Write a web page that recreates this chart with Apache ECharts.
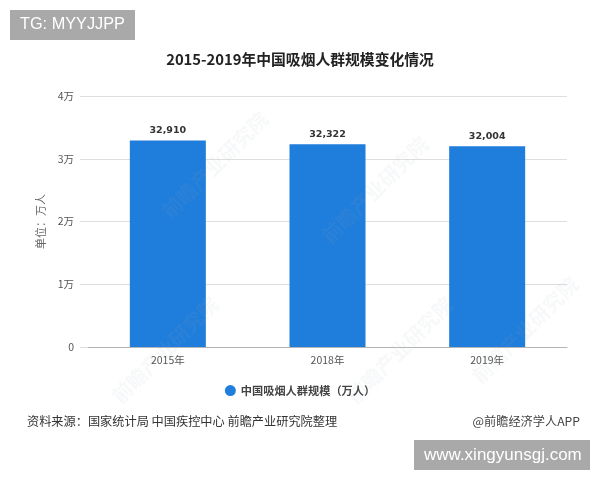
<!DOCTYPE html>
<html>
<head>
<meta charset="UTF-8">
<title>中国吸烟人群规模</title>
<script src="https://cdn.jsdelivr.net/npm/echarts@6/dist/echarts.min.js"></script>
<style>
	html, body { margin: 0; padding: 0; background: #fff; }
	#main { width: 600px; height: 480px; }
</style>
</head>
<body>
<div id="main"></div>
<script>
var years = ['2015年', '2018年', '2019年'];
var smokers = [32910, 32322, 32004];
var yTicks = { 0: '0', 10000: '1万', 20000: '2万', 30000: '3万', 40000: '4万' };
var seriesName = '中国吸烟人群规模（万人）';
var titleText = '2015-2019年中国吸烟人群规模变化情况';
var sourceText = '资料来源：国家统计局 中国疾控中心 前瞻产业研究院整理';
var creditText = '@前瞻经济学人APP';
var cjk = '"Noto Sans CJK SC", sans-serif';

// 水印
function mark(x, y, size) {
	return {
		type: 'text', x: x, y: y, rotation: Math.PI / 4, z: 10, silent: true,
		style: { text: '前瞻产业研究院', font: 'bold ' + size + 'px ' + cjk, fill: 'rgba(170,180,190,0.09)', align: 'center', verticalAlign: 'middle' }
	};
}

var chart = echarts.init(document.getElementById('main'));
chart.setOption({
	animation: false,
	backgroundColor: '#fff',
	title: {
		text: titleText, left: 'center', top: 47,
		textStyle: { fontFamily: cjk, fontSize: 14.8, fontWeight: 'bold', color: '#222' }
	},
	grid: { left: 88, right: 33, top: 96, bottom: 133 },
	legend: {
		left: 'center', top: 380, icon: 'circle', itemWidth: 11, itemHeight: 11,
		textStyle: { fontFamily: cjk, fontSize: 11.2, fontWeight: 'bold', color: '#444' }
	},
	xAxis: {
		type: 'category', data: years,
		axisLine: { lineStyle: { color: '#b5b5b5' } },
		axisTick: { alignWithLabel: true, length: 4, lineStyle: { color: '#b5b5b5' } },
		axisLabel: { fontFamily: cjk, fontSize: 10.5, color: '#555', margin: 8 }
	},
	yAxis: {
		type: 'value', min: 0, max: 40000, interval: 10000,
		name: '单位：万人', nameLocation: 'middle', nameGap: 39,
		nameTextStyle: { fontFamily: cjk, fontSize: 11, color: '#666' },
		axisLine: { show: false },
		axisTick: { show: true, length: 8, lineStyle: { color: '#dedede' } },
		splitLine: { lineStyle: { color: '#dedede' } },
		axisLabel: {
			fontFamily: cjk, fontSize: 10.5, color: '#555', margin: 14,
			formatter: function(v) { return yTicks[v]; }
		}
	},
	series: [{
		name: seriesName, type: 'bar', data: smokers, barWidth: 76,
		itemStyle: { color: '#1f7ddb' },
		label: {
			show: true, position: 'top', distance: 5,
			fontFamily: '"DejaVu Sans", sans-serif', fontSize: 9.5, fontWeight: 'bold', color: '#333',
			formatter: function(p) { return echarts.format.addCommas(p.value); }
		}
	}],
	graphic: [
		mark(215, 165, 20), mark(165, 350, 20), mark(375, 190, 20), mark(400, 350, 20), mark(525, 330, 20),
		{ type: 'rect', shape: { x: 10, y: 10, width: 125, height: 30 }, style: { fill: '#a9a9a9' } },
		{ type: 'text', x: 20, y: 25, style: { text: 'TG: MYYJJPP', font: '16.3px "Liberation Sans", sans-serif', fill: '#fff', verticalAlign: 'middle' } },
		{ type: 'rect', shape: { x: 414, y: 440, width: 176, height: 30 }, style: { fill: '#a9a9a9' } },
		{ type: 'text', x: 424, y: 455, style: { text: 'www.xingyunsgj.com', font: '17px "Liberation Sans", sans-serif', fill: '#fff', verticalAlign: 'middle' } },
		{ type: 'text', x: 27, y: 421, style: { text: sourceText, font: '12.2px ' + cjk, fill: '#333', verticalAlign: 'middle' } },
		{ type: 'text', x: 580, y: 421, style: { text: creditText, font: '12.2px ' + cjk, fill: '#444', align: 'right', verticalAlign: 'middle' } }
	]
});
</script>
</body>
</html>
